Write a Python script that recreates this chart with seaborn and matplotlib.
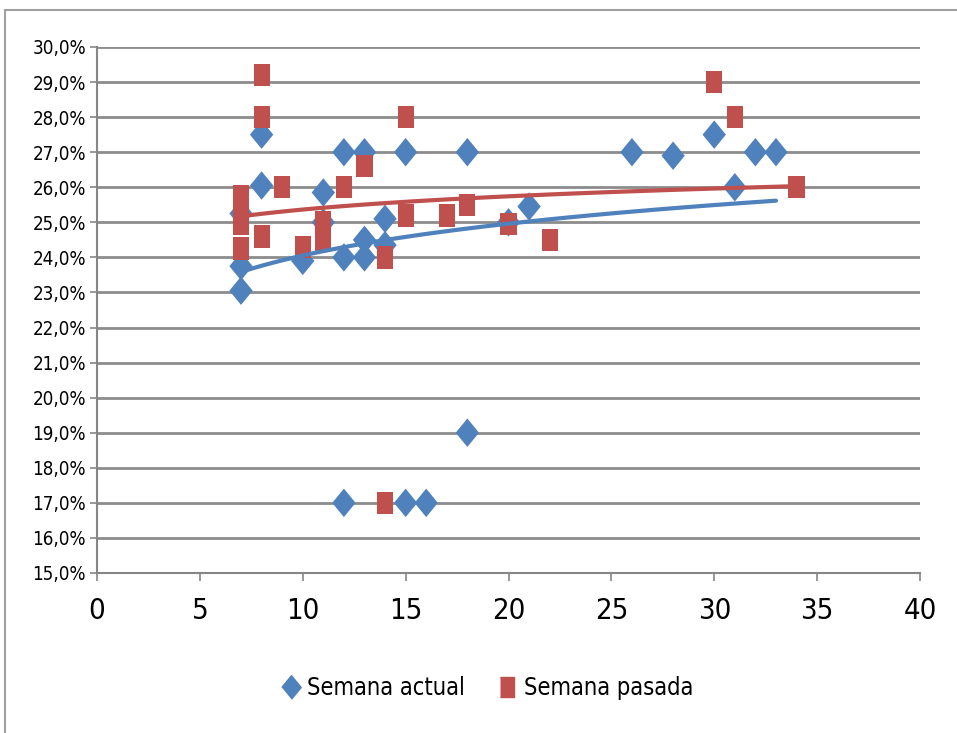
import numpy as np
import pandas as pd
import seaborn as sns
import matplotlib
matplotlib.use("Agg")
import matplotlib.pyplot as plt
from matplotlib.lines import Line2D
from matplotlib.ticker import FuncFormatter, MultipleLocator

# Data (percent values)
actual_x = [7, 7, 7, 8, 8, 10, 11, 11, 12, 12, 12, 13, 13, 13, 14, 14, 15, 15, 16, 18, 18, 20, 21, 26, 28, 30, 31, 32, 33]
actual_y = [25.25, 23.75, 23.05, 27.5, 26.05, 23.9, 25.85, 25.0, 27.0, 24.0, 17.0, 27.0, 24.0, 24.5, 25.1, 24.35, 27.0, 17.0, 17.0, 27.0, 19.0, 25.0, 25.45, 27.0, 26.9, 27.5, 26.0, 27.0, 27.0]

pasada_x = [7, 7, 7, 7, 8, 8, 8, 9, 10, 11, 11, 12, 13, 14, 14, 15, 15, 17, 18, 20, 22, 30, 31, 34]
pasada_y = [25.75, 25.5, 24.95, 24.25, 29.2, 28.0, 24.6, 26.0, 24.3, 25.0, 24.5, 26.0, 26.6, 24.0, 17.0, 28.0, 25.2, 25.2, 25.5, 24.95, 24.5, 29.0, 28.0, 26.0]

series_names = ["Semana actual", "Semana pasada"]
colors = {"Semana actual": "#4F81BD", "Semana pasada": "#C0504D"}
diamond = [(0, -1), (0.82, 0), (0, 1), (-0.82, 0)]
rect = [(-0.72, -1), (0.72, -1), (0.72, 1), (-0.72, 1)]
markers = {"Semana actual": diamond, "Semana pasada": rect}
msizes = {"Semana actual": 420, "Semana pasada": 260}

df = pd.DataFrame({
    "x": actual_x + pasada_x,
    "y": actual_y + pasada_y,
    "serie": [series_names[0]] * len(actual_x) + [series_names[1]] * len(pasada_x),
})

sns.set_style("white")
plt.rcParams['font.family'] = ['DejaVu Sans']
plt.rcParams['font.stretch'] = 'condensed'
plt.rcParams['text.color'] = 'black'

fig = plt.figure(figsize=(9.57, 7.33), dpi=100)
ax = fig.add_axes([97/957, (733-573)/733, (920-97)/957, (573-47)/733])

sns.scatterplot(data=df, x="x", y="y", hue="serie", style="serie", size="serie",
                palette=colors, markers=markers, sizes=msizes,
                edgecolor="none", linewidth=0, ax=ax, legend=False, zorder=3)

# trend lines (logarithmic)
for name in series_names:
    sub = df[df.serie == name]
    sns.regplot(data=sub, x="x", y="y", logx=True, ci=None, scatter=False, truncate=True,
                ax=ax, line_kws=dict(color=colors[name], lw=3, zorder=5))

ax.set_xlim(0, 40)
ax.set_ylim(15, 30)
ax.xaxis.set_major_locator(MultipleLocator(5))
ax.yaxis.set_major_locator(MultipleLocator(1))
ax.yaxis.set_major_formatter(FuncFormatter(lambda v, p: f"{v:.1f}%".replace(".", ",")))
ax.set_xlabel("")
ax.set_ylabel("")
ax.grid(axis="y", color="#8C8C8C", lw=2)
ax.set_axisbelow(True)
for s in ["top", "right"]:
    ax.spines[s].set_visible(False)
for s in ["left", "bottom"]:
    ax.spines[s].set_color("#868686")
    ax.spines[s].set_linewidth(1.5)
ax.tick_params(axis="y", labelsize=13.5, length=5, width=1.2, color="#868686", left=True, pad=3, labelcolor="black")
ax.tick_params(axis="x", labelsize=21, length=6, width=1.2, color="#868686", bottom=True, pad=11, labelcolor="black")

handles = [Line2D([], [], marker=markers[n], color=colors[n], ls="none",
                  markersize=17 if n == series_names[0] else 15) for n in series_names]
fig.legend(handles, series_names, loc="center", bbox_to_anchor=(486/957, 1 - 688/733), ncol=2,
           frameon=False, fontsize=17, handletextpad=0.2, columnspacing=1.3, handlelength=1.0)

# outer chart frame
fig.add_artist(Line2D([5/957, 1], [1 - 10/733, 1 - 10/733], color="#A0A0A0", lw=1.5))
fig.add_artist(Line2D([5/957, 5/957], [0, 1 - 10/733], color="#A0A0A0", lw=1.5))

fig.savefig("out.png", dpi=100)
